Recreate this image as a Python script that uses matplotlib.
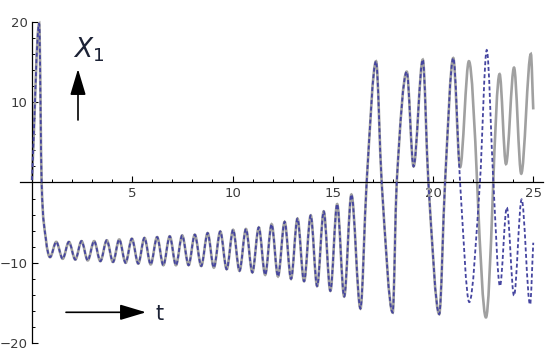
import numpy as np
import matplotlib
matplotlib.use('Agg')
import matplotlib.pyplot as plt
from matplotlib.path import Path
from matplotlib.patches import PathPatch
from matplotlib.ticker import MultipleLocator

# extrema / crossings (t, X1)
# both solutions coincide up to t ~ 21
t_common = [0.00, 0.36, 0.48, 0.69, 0.90, 1.21, 1.53, 1.84, 2.16, 2.47, 2.78, 3.10,
            3.41, 3.73, 4.04, 4.35, 4.67, 4.98, 5.30, 5.61, 5.92, 6.24, 6.55, 6.87,
            7.18, 7.49, 7.81, 8.12, 8.44, 8.76, 9.07, 9.39, 9.71, 10.03, 10.35, 10.67,
            10.99, 11.31, 11.63, 11.95, 12.27, 12.60, 12.92, 13.24, 13.57, 13.90, 14.22,
            14.55, 14.88, 15.22, 15.57, 15.93, 16.38, 16.69, 17.16, 17.44, 17.99, 18.19,
            18.69, 19.03, 19.49, 19.77, 20.31, 20.60, 21.01]
x_common = [0.3, 19.8, 0.0, -7.0, -9.3, -7.4, -9.5, -7.4, -9.6, -7.3, -9.7, -7.3,
            -9.8, -7.2, -9.9, -7.1, -10.0, -7.0, -10.1, -6.9, -10.2, -6.8, -10.3, -6.7,
            -10.3, -6.6, -10.3, -6.5, -10.4, -6.3, -10.6, -6.1, -10.8, -5.9, -11.0, -5.8,
            -11.2, -5.6, -11.5, -5.2, -11.7, -4.9, -12.0, -4.5, -12.3, -4.1, -12.9,
            -3.6, -13.5, -2.7, -14.2, -1.5, -15.7, 0.0, 15.1, 0.0, -16.2, 0.0,
            13.8, 2.0, 15.3, 0.0, -16.4, 0.0, 15.5]

# after t ~ 21 they split
t_gray = [21.01, 21.35, 21.79, 22.64, 23.32, 23.64, 24.04, 24.40, 24.88, 25.00]
x_gray = [15.5, 1.9, 15.1, -16.8, 13.5, 2.3, 14.3, 1.1, 16.0, 9.1]

t_blue = [21.01, 21.35, 21.81, 22.34, 22.68, 23.01, 23.34, 23.68, 24.04, 24.42, 24.84, 25.00]
x_blue = [15.5, 0.0, -14.9, 0.0, 16.5, 0.0, -12.9, -3.1, -14.1, -2.1, -15.2, -7.5]


def smooth_path(t, x):
    # cubic bezier through the points, flat tangent at the extrema
    t = np.asarray(t, float)
    x = np.asarray(x, float)
    n = len(t)
    s = np.zeros(n)
    for i in range(n):
        if i == 0:
            s[i] = (x[1] - x[0]) / (t[1] - t[0])
        elif i == n - 1:
            s[i] = (x[-1] - x[-2]) / (t[-1] - t[-2])
        elif (x[i] - x[i-1]) * (x[i+1] - x[i]) <= 0:
            s[i] = 0.0
        else:
            s[i] = (x[i+1] - x[i-1]) / (t[i+1] - t[i-1])
    verts = [(t[0], x[0])]
    codes = [Path.MOVETO]
    for i in range(n - 1):
        h = t[i+1] - t[i]
        verts += [(t[i] + h/3, x[i] + s[i]*h/3),
                  (t[i+1] - h/3, x[i+1] - s[i+1]*h/3),
                  (t[i+1], x[i+1])]
        codes += [Path.CURVE4] * 3
    return Path(verts, codes)


fig = plt.figure(figsize=(5.5, 3.54), dpi=100)
ax = fig.add_axes([0.0363, 0.0195, 0.9515, 0.930])

gray_t = t_common + t_gray[1:]
gray_x = x_common + x_gray[1:]
blue_t = t_common + t_blue[1:]
blue_x = x_common + x_blue[1:]

ax.add_patch(PathPatch(smooth_path(gray_t, gray_x), fill=False, edgecolor='#a0a0a0',
                       lw=1.9, zorder=2))
ax.add_patch(PathPatch(smooth_path(blue_t, blue_x), fill=False, edgecolor='#4545a0',
                       lw=1.3, linestyle=(0, (2.2, 1.4)), zorder=3))

ax.set_xlim(-0.6, 25.5)
ax.set_ylim(-20.5, 20.5)

ax.spines['left'].set_position(('data', 0))
ax.spines['bottom'].set_position(('data', 0))
ax.spines['top'].set_visible(False)
ax.spines['right'].set_visible(False)
ax.spines['left'].set_bounds(-20, 20)
for sp in ('left', 'bottom'):
    ax.spines[sp].set_linewidth(0.9)

ax.set_xticks([5, 10, 15, 20, 25])
ax.set_yticks([-20, -10, 10, 20])
ax.xaxis.set_minor_locator(MultipleLocator(1))
ax.yaxis.set_minor_locator(MultipleLocator(2))
ax.tick_params(which='major', direction='in', length=4, width=0.8,
               labelsize=9.5, labelcolor='#3a3a3a', pad=3)
ax.tick_params(which='minor', direction='in', length=2.5, width=0.7)
ax.set_facecolor('white')

# the two little arrows with labels
ax.annotate('', xy=(78, 285), xytext=(78, 234), xycoords='figure pixels',
            textcoords='figure pixels',
            arrowprops=dict(arrowstyle='-|>,head_length=0.8,head_width=0.24',
                            mutation_scale=20, color='black', lw=1.2,
                            shrinkA=0, shrinkB=0))
ax.annotate('', xy=(146, 41.7), xytext=(66, 41.7), xycoords='figure pixels',
            textcoords='figure pixels',
            arrowprops=dict(arrowstyle='-|>,head_length=0.8,head_width=0.24',
                            mutation_scale=20, color='black', lw=1.2,
                            shrinkA=0, shrinkB=0))
fig.text(73 / 550, 297 / 354, r'$X_1$', fontsize=19, color='#1c2235',
         ha='left', va='baseline')
fig.text(155 / 550, 40 / 354, 't', fontsize=15, color='#1c2235',
         ha='left', va='center')

fig.savefig('out.png', dpi=100, facecolor='white')
